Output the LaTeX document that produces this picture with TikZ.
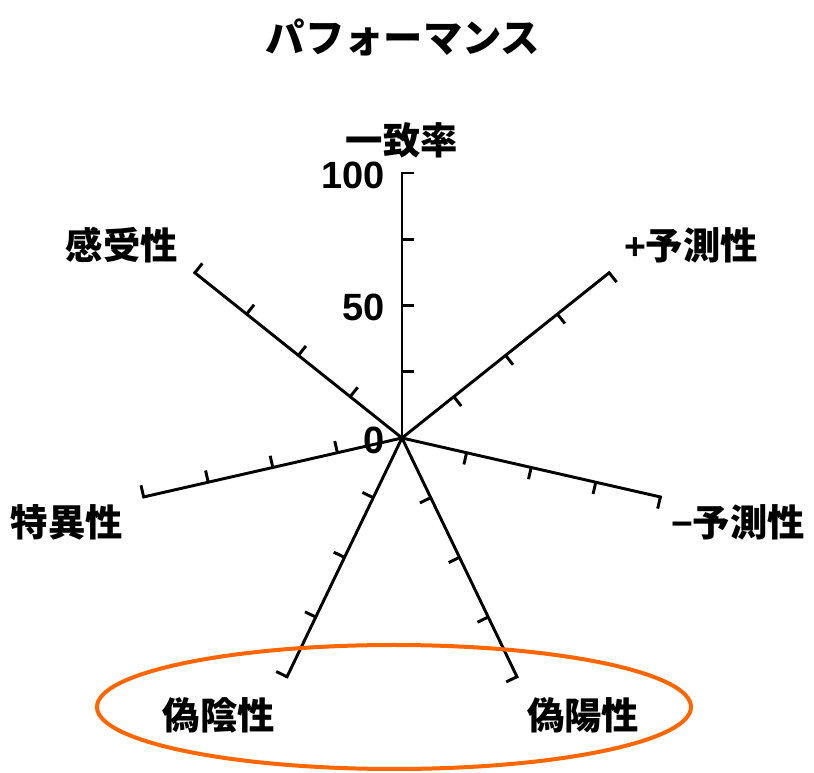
\documentclass[tikz,border=0pt]{standalone}
\usepackage{fontspec}
\setmainfont{Liberation Sans}
\newfontfamily\jp{Noto Sans CJK JP}
\usetikzlibrary{calc}
\definecolor{ringorange}{RGB}{255,102,0}

\tikzset{
    axis/.style={line width=2.2pt, line cap=rect},
    tick/.style={line width=2.2pt},
    lab/.style={font=\jp\bfseries\fontsize{28}{30}\selectfont, inner sep=0},
    num/.style={font=\bfseries\fontsize{28.5}{30}\selectfont, inner sep=0, anchor=east},
    ring/.style={draw=ringorange, line width=3pt}
    }

\begin{document}
\begin{tikzpicture}[x=0.75pt, y=0.75pt]
                \useasboundingbox (-402,-335) rectangle (412,438);
                % The Axes
                \coordinate (o) at (0,0);
                \foreach \i in {0,...,6}{
                    \coordinate (a\i) at ({90-360/7*\i}:265);
                    \draw[axis] (o) -- (a\i);
                    \foreach \r in {66.25,132.5,198.75,265}
                        \draw[tick, rotate={90-360/7*\i}] (\r,0) -- (\r,-12);
                }
                % The Scale
                \node(n100)[num] at (-17,263) {100};
                \node(n50)[num] at (-17,131) {50};
                \node(n0)[num] at (-17,-2) {0};
                % The Labels
                \node(title)[lab, font=\jp\bfseries\fontsize{29.5}{32}\selectfont] at (1,401) {パフォーマンス};
                \node(agree)[lab] at (0,298) {一致率};
                \node(ppv)[lab] at (289,193) {{\fontspec{Liberation Sans}\bfseries +}予測性};
                \node(npv)[lab] at (336,-84) {{\fontspec{Liberation Sans}\bfseries −}予測性};
                \node(fp)[lab] at (181,-277) {偽陽性};
                \node(fn)[lab] at (-183,-277) {偽陰性};
                \node(spec)[lab] at (-335,-84) {特異性};
                \node(sens)[lab] at (-280,193) {感受性};
                % The Ring
                \draw[ring] (-8,-269) ellipse [x radius=297, y radius=62];
            \end{tikzpicture}
\end{document}
